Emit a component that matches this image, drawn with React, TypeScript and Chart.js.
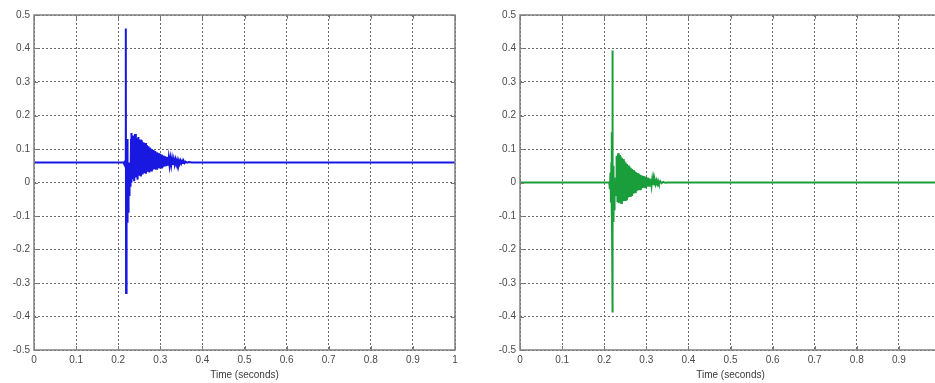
import React, { useEffect, useRef } from "react";
import { Chart, registerables } from "chart.js";

Chart.register(...registerables);

// ---- Data ----
const xTickValues = [0, 0.1, 0.2, 0.3, 0.4, 0.5, 0.6, 0.7, 0.8, 0.9, 1];
const yTickValues = [-0.5, -0.4, -0.3, -0.2, -0.1, 0, 0.1, 0.2, 0.3, 0.4, 0.5];
const xAxisTitle = "Time (seconds)";

// Left panel (blue) – time in seconds
const blueTimes = [
  0, 0.1, 0.2, 0.212, 0.214, 0.215, 0.216, 0.217, 0.2177, 0.2181, 0.2184, 0.2187,
  0.219, 0.2192, 0.2194, 0.2196, 0.2198, 0.22, 0.2202, 0.2204, 0.2206, 0.2208,
  0.221, 0.2212, 0.2214, 0.2216, 0.2218, 0.222, 0.2222, 0.2224, 0.2226, 0.2228,
  0.223, 0.2232, 0.2234, 0.2237, 0.224, 0.2243, 0.2246, 0.2249, 0.2252, 0.2255,
  0.2258, 0.2261, 0.2264, 0.2267, 0.227, 0.2274, 0.2278, 0.2282, 0.2286, 0.229,
  0.2295, 0.23, 0.2305, 0.231,
  0.232, 0.234, 0.236, 0.238, 0.24, 0.242, 0.244, 0.246, 0.248, 0.25,
  0.252, 0.254, 0.256, 0.258, 0.26, 0.262, 0.264, 0.266, 0.268, 0.27,
  0.272, 0.274, 0.276, 0.278, 0.28, 0.282, 0.284, 0.286, 0.288, 0.29,
  0.292, 0.294, 0.296, 0.298, 0.3, 0.302, 0.304, 0.306, 0.308, 0.31,
  0.312, 0.314, 0.316, 0.318, 0.32, 0.322, 0.324, 0.326, 0.328, 0.33,
  0.332, 0.334, 0.336, 0.338, 0.34, 0.342, 0.344, 0.346, 0.348, 0.35,
  0.352, 0.354, 0.356, 0.358, 0.36, 0.364, 0.368, 0.375, 0.4, 0.6, 0.8, 1,
];
const blueValues = [
  0.06, 0.06, 0.06, 0.06, 0.056, 0.064, 0.052, 0.066, 0.045, 0.19, 0.46, -0.33,
  0.06, -0.12, 0.05, -0.13, 0.04, -0.11, 0.03, -0.125, 0.05, -0.12,
  0.02, -0.1, 0.04, -0.115, 0.01, -0.09, 0.03, -0.1, 0.13, -0.12,
  0.12, -0.08, 0.06, -0.09, 0.05, -0.07, 0.04, -0.06, 0.05, -0.05,
  0.04, -0.04, 0.05, -0.03, 0.04, -0.02, 0.05, -0.01, 0.05, 0.0,
  0.06, 0.0, 0.13, 0.0,
  0.148, 0.01, 0.14, 0.004, 0.145, 0.015, 0.132, 0.008, 0.136, 0.02,
  0.128, 0.018, 0.126, 0.024, 0.12, 0.028, 0.118, 0.026, 0.112, 0.032,
  0.108, 0.03, 0.104, 0.036, 0.1, 0.038, 0.097, 0.04, 0.094, 0.041,
  0.09, 0.043, 0.088, 0.042, 0.086, 0.045, 0.083, 0.046, 0.08, 0.048,
  0.078, 0.049, 0.076, 0.05, 0.074, 0.051, 0.072, 0.052, 0.071, 0.053,
  0.069, 0.054, 0.068, 0.055, 0.067, 0.056, 0.066, 0.056, 0.065, 0.057,
  0.064, 0.058, 0.063, 0.058, 0.062, 0.059, 0.061, 0.06, 0.06, 0.06, 0.06, 0.06,
];

// Right panel (green) – time in seconds
const greenTimes = [
  0, 0.1, 0.2, 0.212, 0.2135, 0.215, 0.216, 0.217, 0.2178, 0.2183, 0.2186, 0.2188,
  0.2191, 0.2193, 0.2195, 0.2197, 0.2199, 0.2201, 0.2203, 0.2205, 0.2207, 0.2209,
  0.2211, 0.2213, 0.2215, 0.2217, 0.2219, 0.2221, 0.2223, 0.2225, 0.2228, 0.2231,
  0.2234, 0.2237, 0.224, 0.2244, 0.2248, 0.2252, 0.2256, 0.2262, 0.2268, 0.2275,
  0.2282, 0.229,
  0.23, 0.2315, 0.233, 0.2345, 0.236, 0.2375, 0.239, 0.2405, 0.242, 0.2435,
  0.245, 0.2465, 0.248, 0.2495, 0.251, 0.2525, 0.254, 0.2555, 0.257, 0.2585,
  0.26, 0.2615, 0.263, 0.2645, 0.266, 0.2675, 0.269, 0.2705, 0.272, 0.2735,
  0.275, 0.2765, 0.278, 0.2795, 0.281, 0.2825, 0.284, 0.2855, 0.287, 0.2885,
  0.29, 0.2915, 0.293, 0.2945, 0.296, 0.2975, 0.299, 0.3005, 0.302, 0.3035,
  0.305, 0.3065, 0.308, 0.3095, 0.311, 0.3125, 0.314, 0.3155, 0.317, 0.3185,
  0.32, 0.322, 0.324, 0.326, 0.328, 0.33, 0.333, 0.336, 0.34, 0.345, 0.35, 1,
];
const greenValues = [
  0, 0, 0, 0, -0.02, 0.03, -0.06, 0.06, -0.1, 0.15, -0.13, 0.394,
  -0.388, 0.12, -0.137, 0.09, -0.13, 0.08, -0.125, 0.07, -0.12, 0.06,
  -0.115, 0.05, -0.11, 0.04, -0.105, 0.03, -0.1, 0.02, -0.09, 0.02,
  -0.08, 0.015, -0.07, 0.01, -0.06, 0.01, -0.05, 0.005, -0.04, 0.0,
  -0.03, 0.01,
  0.08, -0.058, 0.087, -0.062, 0.082, -0.06, 0.078, -0.061, 0.074, -0.057,
  0.07, -0.055, 0.064, -0.052, 0.06, -0.05, 0.055, -0.046, 0.051, -0.043,
  0.048, -0.04, 0.044, -0.037, 0.04, -0.035, 0.037, -0.032, 0.034, -0.029,
  0.031, -0.026, 0.028, -0.024, 0.026, -0.022, 0.024, -0.02, 0.022, -0.018,
  0.02, -0.016, 0.019, -0.015, 0.018, -0.014, 0.017, -0.013, 0.015, -0.011,
  0.013, -0.01, 0.012, -0.009, 0.01, -0.008, 0.009, -0.007, 0.008, -0.006,
  0.007, -0.005, 0.006, -0.004, 0.005, -0.003, 0.004, -0.002, 0.002, -0.001, 0, 0,
];

const FONT = "'Liberation Sans', Arial, sans-serif";
const TICK_COLOR = "#4a4a4a";

const fmt = (v: number) => {
  const n = parseFloat(Number(v).toFixed(1));
  return (n === 0 ? 0 : n).toString();
};

const framePlugin = {
  id: "matlabFrame",
  afterDatasetsDraw(chart: any) {
    const { ctx, chartArea, scales } = chart;
    const { left, right, top, bottom } = chartArea;
    ctx.save();
    ctx.strokeStyle = "#7a7a7a";
    ctx.lineWidth = 1;
    ctx.beginPath();
    xTickValues.forEach((v) => {
      const px = Math.round(scales.x.getPixelForValue(v)) + 0.5;
      ctx.moveTo(px, bottom);
      ctx.lineTo(px, bottom - 4);
      ctx.moveTo(px, top);
      ctx.lineTo(px, top + 4);
    });
    yTickValues.forEach((v) => {
      const py = Math.round(scales.y.getPixelForValue(v)) + 0.5;
      ctx.moveTo(left, py);
      ctx.lineTo(left + 4, py);
      ctx.moveTo(right, py);
      ctx.lineTo(right - 4, py);
    });
    ctx.stroke();
    ctx.lineWidth = 1.5;
    ctx.strokeStyle = "#808080";
    ctx.strokeRect(left, top, right - left, bottom - top);
    ctx.restore();
  },
};

function Panel(props: { left: number; times: number[]; values: number[]; color: string }) {
  const ref = useRef<HTMLCanvasElement>(null);
  useEffect(() => {
    if (!ref.current) return;
    const points = props.times.map((t, i) => ({ x: t, y: props.values[i] }));
    const chart = new Chart(ref.current, {
      type: "line",
      data: {
        datasets: [
          {
            data: points,
            borderColor: props.color,
            borderWidth: 2,
            pointRadius: 0,
            tension: 0,
            fill: false,
          },
        ],
      },
      options: {
        responsive: false,
        animation: false,
        devicePixelRatio: 1,
        layout: { padding: { top: 15, right: 7, left: 0, bottom: 0 } },
        plugins: { legend: { display: false }, tooltip: { enabled: false } },
        scales: {
          x: {
            type: "linear",
            min: 0,
            max: 1,
            afterBuildTicks: (s: any) => {
              s.ticks = xTickValues.map((v) => ({ value: v }));
            },
            afterFit: (s: any) => {
              s.height = 33;
            },
            ticks: {
              autoSkip: false,
              maxRotation: 0,
              padding: 4,
              color: TICK_COLOR,
              font: { family: FONT, size: 10 },
              callback: (v: any) => fmt(v),
            },
            grid: { color: "#6a6a6a", lineWidth: 1, drawTicks: false },
            border: { display: false, dash: [2, 2] },
            title: {
              display: true,
              text: xAxisTitle,
              color: "#3a3a3a",
              font: { family: FONT, size: 10 },
              padding: { top: 0, bottom: 2 },
            },
          },
          y: {
            type: "linear",
            min: -0.5,
            max: 0.5,
            afterBuildTicks: (s: any) => {
              s.ticks = yTickValues.map((v) => ({ value: v }));
            },
            afterFit: (s: any) => {
              s.width = 34;
            },
            ticks: {
              autoSkip: false,
              padding: 4,
              color: TICK_COLOR,
              font: { family: FONT, size: 10 },
              callback: (v: any) => fmt(v),
            },
            grid: { color: "#6a6a6a", lineWidth: 1, drawTicks: false },
            border: { display: false, dash: [2, 2] },
          },
        },
      },
      plugins: [framePlugin],
    } as any);
    return () => chart.destroy();
  }, []);
  return (
    <canvas
      ref={ref}
      width={462}
      height={383}
      style={{ position: "absolute", left: props.left, top: 0, width: 462, height: 383 }}
    />
  );
}

export default function App() {
  return (
    <div
      style={{
        position: "fixed",
        left: 0,
        top: 0,
        width: 935,
        height: 383,
        overflow: "hidden",
        background: "#ffffff",
      }}
    >
      <Panel left={0} times={blueTimes} values={blueValues} color="#1818e0" />
      <Panel left={486} times={greenTimes} values={greenValues} color="#1a9e3c" />
    </div>
  );
}
